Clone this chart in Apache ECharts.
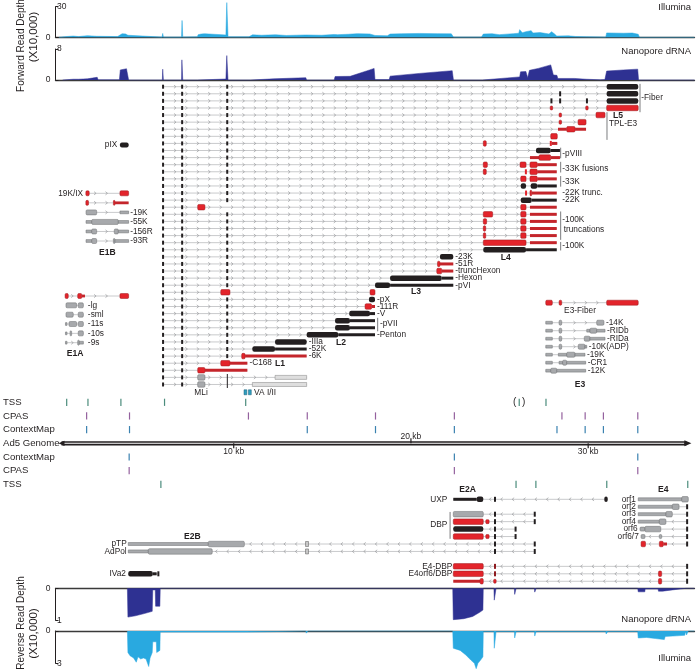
<!DOCTYPE html>
<html><head><meta charset="utf-8">
<script src="https://cdn.jsdelivr.net/npm/echarts@6/dist/echarts.min.js"></script>
<style>html,body{margin:0;padding:0;background:#fff}#c{width:696px;height:670px}</style>
</head><body><div id="c"></div>
<script>
const FONT = '"Liberation Sans", Arial, Helvetica, sans-serif';
const INK = '#231f20';

// ---------- coverage data: [position kb, depth (x10,000)] ----------
const illuminaFwd = [[0.2,0],[0.25,0.5],[0.5,0.6],[0.55,1.3],[1.0,1.2],[1.05,0.6],[1.3,0.7],[1.35,1.5],[1.8,1.6],[1.85,1.1],[2.3,1.0],[2.4,0.6],[3.5,0.7],[3.6,2.5],[3.75,3.5],[3.95,3.3],[4.08,2.0],[4.12,0.2],[6.0,0.2],[6.04,3.8],[6.08,0.3],[7.1,0.3],[7.13,16.5],[7.17,0.4],[8.0,0.5],[8.03,2.5],[8.2,3.2],[8.4,3.5],[8.45,2.2],[9.6,2.3],[9.65,34],[9.72,0.5],[10.9,0.5],[11.1,2.4],[11.6,2.0],[12.4,2.5],[13.0,1.8],[14.1,2.3],[14.2,1.8],[15.0,2.0],[15.7,2.8],[15.8,4.0],[15.9,2.6],[16.5,3.0],[17.0,3.6],[17.7,3.3],[18.0,1.8],[18.7,1.5],[18.85,3.2],[19.5,3.5],[20.5,3.8],[21.5,3.6],[22.3,3.4],[22.42,0.3],[24.0,0.3],[24.1,3.2],[24.6,3.5],[25.0,2.6],[25.8,3.6],[26.1,4.0],[26.15,7.5],[26.3,4.5],[26.5,5.5],[26.55,4.0],[26.8,6.5],[26.9,4.2],[27.3,4.6],[27.4,3.0],[27.8,3.3],[27.95,5.5],[28.1,3.5],[28.24,1.2],[28.9,1.4],[29.3,0.8],[29.9,0.6],[30.0,0.2],[31.0,0.3],[31.05,4.3],[32.0,4.0],[32.5,4.2],[32.83,3.0],[32.9,0],[36,0]];
const nanoporeFwd = [[0.4,0],[0.5,0.2],[1.0,0.2],[1.3,0.2],[1.35,0.3],[1.8,0.3],[1.82,0.7],[2.35,0.7],[2.4,0.05],[3.6,0.05],[3.65,2.6],[3.75,2.9],[4.0,2.9],[4.1,2.5],[4.12,0],[6.02,0],[6.04,2.8],[6.08,0],[7.1,0],[7.12,5.2],[7.17,0],[8.0,0],[8.02,0.25],[9.6,0.25],[9.65,6.3],[9.72,0],[11.0,0],[11.1,0.25],[12.3,0.3],[12.37,0.6],[14.1,0.6],[14.15,0],[15.7,0],[15.75,0.9],[16.6,0.95],[16.65,1.2],[17.7,2.6],[17.8,3.0],[17.95,3.0],[18.0,0.1],[18.8,0.1],[18.85,1.0],[20.5,1.7],[22.35,2.4],[22.42,0],[24.05,0],[24.1,0.5],[26.15,0.8],[26.2,2.1],[26.5,2.2],[26.6,0.6],[26.7,2.5],[27.2,3.0],[27.9,3.9],[28.0,3.8],[28.05,1.3],[28.25,1.2],[28.3,0.4],[29.25,0.4],[29.3,0.25],[29.9,0.2],[30.0,0],[30.7,0.05],[30.95,0.1],[31.05,2.3],[32.0,2.6],[32.8,2.8],[32.85,0],[36,0]];
const nanoporeRev = [[4.05,0],[4.08,0.9],[4.5,0.86],[5.0,0.79],[5.45,0.72],[5.48,0.05],[5.62,0.05],[5.64,0.56],[5.88,0.56],[5.9,0],[22.38,0],[22.41,0.98],[23.0,0.95],[23.5,0.88],[23.9,0.75],[24.08,0.68],[24.1,0],[24.7,0],[24.72,0.37],[24.8,0.37],[24.82,0],[25.85,0],[25.87,0.19],[25.93,0.19],[25.95,0],[26.98,0],[27.0,0.12],[27.06,0.12],[27.08,0],[31.0,0],[31.02,0.06],[31.1,0.06],[31.12,0],[32.8,0],[32.83,0.11],[33.2,0.11],[33.22,0.02],[33.95,0.02],[33.97,0.09],[34.2,0.09],[34.22,0.05],[34.75,0.05],[34.77,0],[35.52,0],[35.55,0.06],[35.63,0.06],[35.65,0],[36,0]];
const illuminaRev = [[4.05,0],[4.08,2.0],[4.2,2.3],[4.4,2.5],[4.55,2.9],[4.65,2.4],[4.8,2.6],[4.95,2.5],[5.1,2.6],[5.25,3.3],[5.33,2.5],[5.45,2.0],[5.48,1.0],[5.68,1.0],[5.7,2.0],[5.88,1.8],[5.9,0.1],[10.7,0.1],[10.75,0],[14.1,0],[14.13,0.2],[14.2,0.2],[14.22,0],[22.38,0],[22.41,1.6],[22.8,1.8],[23.1,2.2],[23.4,2.7],[23.6,3.0],[23.7,3.5],[23.8,3.0],[23.95,2.7],[24.08,2.4],[24.1,0.05],[24.7,0.05],[24.72,1.6],[24.8,1.6],[24.82,0.05],[25.85,0.05],[25.87,0.65],[25.93,0.65],[25.95,0.05],[26.98,0.05],[27.0,0.47],[27.06,0.47],[27.08,0.05],[31.0,0.05],[31.02,0.28],[31.1,0.28],[31.12,0.05],[32.8,0.05],[32.83,0.65],[33.3,0.6],[33.8,0.7],[33.85,0.85],[34.3,0.8],[34.35,0.5],[35.0,0.45],[35.45,0.4],[35.5,0.05],[35.55,0.37],[35.63,0.37],[35.65,0],[36,0]];

// ---------- transcripts: exons [start kb, end kb, kind, colour] ----------
const LEAD = [[6.04,6.08,'l'],[7.10,7.17,'l'],[9.63,9.72,'l']];
const L12 = [[6.04,6.08,'l'],[7.10,7.17,'l']];
const lateTx = [
 {c:'k', ex:[...LEAD,[31.05,32.83,'c']]},
 {c:'k', ex:[...LEAD,[28.38,28.48,'t'],[31.05,32.83,'c']]},
 {c:'k', ex:[...LEAD,[27.90,27.98,'t'],[28.38,28.48,'t'],[29.90,29.98,'t'],[31.05,32.83,'c']]},
 {c:'r', ex:[...LEAD,[27.90,27.98,'s'],[29.90,29.98,'s'],[31.05,32.83,'c']]},
 {c:'r', ex:[...LEAD,[28.38,28.50,'s'],[30.45,30.96,'c']]},
 {c:'r', ex:[...LEAD,[28.38,28.50,'s'],[29.44,29.89,'c']]},
 {c:'r', ex:[...LEAD,[28.31,28.80,'u'],[28.80,29.27,'c'],[29.27,29.89,'u']]},
 {c:'r', ex:[...LEAD,[27.90,28.27,'c']]},
 {c:'r', ex:[...LEAD,[24.10,24.27,'c'],[27.88,27.93,'t'],[27.95,28.27,'u']]},
 {c:'k', ex:[...LEAD,[27.07,27.90,'c'],[27.90,28.42,'u']]},
 {c:'r', ex:[...LEAD,[26.73,27.24,'u'],[27.24,27.90,'c'],[27.90,28.42,'u']]},
 {c:'r', ex:[...LEAD,[24.10,24.33,'c'],[26.17,26.51,'c'],[26.73,27.14,'c'],[27.14,28.24,'u']]},
 {c:'r', ex:[...LEAD,[24.10,24.27,'c'],[26.47,26.53,'t'],[26.73,27.14,'c'],[27.14,28.24,'u']]},
 {c:'r', ex:[...LEAD,[26.21,26.51,'c'],[26.73,27.14,'c'],[27.14,28.24,'u']]},
 {c:'k', ex:[...LEAD,[26.21,26.51,'c'],[26.77,27.14,'c'],[27.14,28.24,'u']]},
 {c:'r', ex:[...LEAD,[26.48,26.54,'t'],[26.73,26.83,'c'],[26.83,28.24,'u']]},
 {c:'k', ex:[...LEAD,[26.21,26.83,'c'],[26.83,28.24,'u']]},
 {c:'r', ex:[...L12,[8.01,8.42,'c'],[26.21,26.51,'c'],[26.73,28.24,'u']]},
 {c:'r', ex:[...LEAD,[24.10,24.63,'c'],[26.21,26.51,'c'],[26.73,28.24,'u']]},
 {c:'r', ex:[...LEAD,[24.10,24.29,'c'],[26.21,26.51,'c'],[26.73,28.24,'u']]},
 {c:'r', ex:[...LEAD,[24.10,24.24,'c'],[26.21,26.51,'c'],[26.73,28.24,'u']]},
 {c:'r', ex:[...LEAD,[24.10,24.24,'c'],[26.21,26.51,'c'],[26.73,28.24,'u']]},
 {c:'r', ex:[...LEAD,[24.10,26.51,'c'],[26.73,28.24,'u']]},
 {c:'k', ex:[...LEAD,[24.10,26.51,'c'],[26.51,28.24,'u']]},
 {c:'k', ex:[...LEAD,[21.66,22.41,'c']], lab:'-23K'},
 {c:'r', ex:[...LEAD,[21.52,21.66,'c'],[21.66,22.41,'u']], lab:'-51R'},
 {c:'r', ex:[...LEAD,[21.48,21.76,'c'],[21.76,22.41,'u']], lab:'-truncHexon'},
 {c:'k', ex:[...LEAD,[18.85,21.76,'c'],[21.76,22.41,'u']], lab:'-Hexon'},
 {c:'k', ex:[...LEAD,[18.0,18.85,'c'],[18.85,22.41,'u']], lab:'-pVI'},
 {c:'r', ex:[...L12,[9.31,9.83,'c'],[17.72,18.0,'c']]},
 {c:'k', ex:[...LEAD,[17.66,18.0,'c']], lab:'-pX'},
 {c:'r', ex:[...LEAD,[17.44,17.81,'c'],[17.81,18.0,'u']], lab:'-111R'},
 {c:'k', ex:[...LEAD,[16.55,17.72,'c'],[17.72,18.0,'u']], lab:'-V'},
 {c:'k', ex:[...LEAD,[15.75,16.59,'c'],[16.59,18.0,'u']]},
 {c:'k', ex:[...LEAD,[15.75,16.59,'c'],[16.59,18.0,'u']]},
 {c:'k', ex:[...LEAD,[14.15,15.93,'c'],[15.93,18.0,'u']], lab:'-Penton'},
 {c:'k', ex:[...LEAD,[12.37,14.15,'c']], lab:'-IIIa'},
 {c:'k', ex:[...LEAD,[11.09,12.37,'c'],[12.37,14.15,'u']], lab:'-52K'},
 {c:'r', ex:[...LEAD,[10.49,10.68,'c'],[10.68,14.15,'u']], lab:'-6K'},
 {c:'r', ex:[...L12,[9.31,9.83,'c'],[9.83,10.81,'u']], lab:'-C168'},
 {c:'r', ex:[...L12,[8.01,8.42,'c'],[8.42,10.81,'u']]},
 {c:'g', ex:[...L12,[8.01,8.42,'c'],[9.66,9.70,'v'],[12.37,14.15,'o']]},
 {c:'g', ex:[...L12,[8.01,8.42,'c'],[9.66,9.70,'v'],[11.09,14.15,'o']]}
];
const lateLabels = [
 [33.0,1.5,'-Fiber','left'],[31.69,4.13,'L5','center',1],[31.18,5.16,'TPL-E3','left'],
 [28.55,9.4,'-pVIII','left'],[28.55,11.5,'-33K fusions','left'],[28.55,13.4,'-33K','left'],
 [28.55,15.0,'-22K trunc.','left'],[28.55,16.0,'-22K','left'],[28.55,18.8,'-100K','left'],
 [28.63,20.2,'truncations','left'],[28.55,22.4,'-100K','left'],[25.36,24.1,'L4','center',1],
 [20.31,28.9,'L3','center',1],[18.28,33.4,'-pVII','left'],[16.08,36.05,'L2','center',1],
 [12.65,39.0,'L1','center',1],[8.20,43.1,'MLi','center'],[11.19,43.1,'VA I/II','left']
];
const lateBrackets = [[32.93,-0.4,3.6],[31.07,3.6,7.5],[28.46,8.6,10.1],[28.46,10.6,12.1],[28.46,12.6,14.1],[28.46,17.6,21.6],[28.46,21.9,23.1],[18.15,32.6,34.5]];
const vaRNA = [[10.62,10.78,43.1],[10.87,11.03,43.1]];

const pixTx = [{c:'k', ex:[[3.63,4.12,'c']], labL:'pIX'}];
const e1bTx = [
 {c:'r', ex:[[1.71,1.90,'c'],[3.63,4.12,'c']], labL:'19K/IX'},
 {c:'r', ex:[[1.71,1.86,'c'],[3.26,3.35,'c'],[3.35,4.12,'u']]},
 {c:'g', ex:[[1.72,2.32,'c'],[3.63,4.12,'u']], lab:'-19K'},
 {c:'g', ex:[[1.72,2.04,'u'],[2.04,3.54,'c'],[3.54,4.12,'u']], lab:'-55K'},
 {c:'g', ex:[[1.72,2.04,'u'],[2.04,2.32,'c'],[3.31,3.54,'c'],[3.54,4.12,'u']], lab:'-156R'},
 {c:'g', ex:[[1.72,2.04,'u'],[2.04,2.32,'c'],[3.26,3.35,'c'],[3.35,4.12,'u']], lab:'-93R'}
];
const e1bLabels = [[2.92,6.23,'E1B','center',1]];
const e1aTx = [
 {c:'r', ex:[[0.54,0.72,'c'],[1.25,1.48,'c'],[1.48,1.66,'u'],[3.63,4.12,'c']]},
 {c:'g', ex:[[0.59,1.19,'c'],[1.28,1.57,'c']], lab:'-lg'},
 {c:'g', ex:[[0.59,1.0,'c'],[1.28,1.57,'c']], lab:'-sml'},
 {c:'g', ex:[[0.56,0.65,'u'],[0.76,1.19,'c'],[1.28,1.57,'c']], lab:'-11s'},
 {c:'g', ex:[[0.56,0.65,'u'],[0.82,0.91,'c'],[1.28,1.57,'c']], lab:'-10s'},
 {c:'g', ex:[[0.56,0.65,'u'],[1.25,1.34,'c'],[1.34,1.57,'u']], lab:'-9s'}
];
const e1aLabels = [[1.10,6.2,'E1A','center',1]];
const e3fTx = [{c:'r', ex:[[27.62,27.99,'c'],[28.37,28.52,'c'],[31.05,32.83,'c']]}];
const e3fLabels = [[29.55,1.0,'E3-Fiber','center']];
const e3Tx = [
 {c:'g', ex:[[27.62,27.99,'u'],[28.37,28.52,'c'],[30.49,30.90,'c']], lab:'-14K'},
 {c:'g', ex:[[27.62,27.99,'u'],[28.37,28.52,'c'],[29.93,30.11,'u'],[30.11,30.49,'c'],[30.49,30.96,'u']], lab:'-RIDb'},
 {c:'g', ex:[[27.62,27.99,'u'],[28.37,28.52,'c'],[29.79,30.11,'c'],[30.11,30.96,'u']], lab:'-RIDa'},
 {c:'g', ex:[[27.62,27.99,'u'],[28.37,28.52,'c'],[29.45,29.83,'c'],[29.83,29.93,'u']], lab:'-10K(ADP)'},
 {c:'g', ex:[[27.62,27.99,'u'],[28.33,28.80,'u'],[28.80,29.27,'c'],[29.27,29.83,'u']], lab:'-19K'},
 {c:'g', ex:[[27.62,27.99,'u'],[28.37,28.57,'u'],[28.57,28.80,'c'],[28.80,29.87,'u']], lab:'-CR1'},
 {c:'g', ex:[[27.62,27.90,'u'],[27.90,28.24,'c'],[28.24,29.87,'u']], lab:'-12K'}
];
const e3Labels = [[29.55,7.7,'E3','center',1]];
const revTx = [
 {row:0, c:'k', ex:[[22.41,23.73,'u'],[23.73,24.10,'c'],[24.72,24.80,'t'],[30.92,31.11,'c']], labL:'UXP', gap:6},
 {row:2, c:'g', ex:[[22.41,24.10,'c'],[24.72,24.80,'t','k'],[26.96,27.04,'t','k']]},
 {row:3, c:'r', ex:[[22.41,24.10,'c'],[24.24,24.43,'s'],[24.72,24.80,'t','k'],[26.96,27.04,'t','k']]},
 {row:4, c:'k', ex:[[22.41,24.10,'c'],[24.72,24.80,'t'],[25.88,25.96,'t']]},
 {row:5, c:'r', ex:[[22.41,24.10,'c'],[24.24,24.43,'s'],[24.72,24.80,'t','k'],[25.88,25.96,'t','k']]},
 {row:6, c:'g', ex:[[4.10,8.61,'u'],[8.61,10.64,'c'],[14.12,14.22,'m'],[24.72,24.80,'t','k'],[26.96,27.04,'t','k']], labL:'pTP', gap:1.6},
 {row:7, c:'g', ex:[[4.10,5.23,'u'],[5.23,8.83,'c'],[14.12,14.22,'m'],[24.72,24.80,'t','k'],[26.96,27.04,'t','k']], labL:'AdPol', gap:1.6},
 {row:10, c:'k', ex:[[4.10,5.48,'c'],[5.48,5.70,'u'],[5.75,5.84,'t']], labL:'IVa2'},
 {row:0, c:'g', ex:[[32.83,35.28,'u'],[35.28,35.65,'c']], labL:'orf1'},
 {row:1, c:'g', ex:[[32.83,34.75,'u'],[34.75,35.13,'c'],[35.55,35.62,'t','k']], labL:'orf2'},
 {row:2, c:'g', ex:[[32.83,34.39,'u'],[34.39,34.75,'c'],[35.55,35.62,'t','k']], labL:'orf3'},
 {row:3, c:'g', ex:[[32.83,34.02,'u'],[34.02,34.39,'c'],[35.55,35.62,'t','k']], labL:'orf4'},
 {row:4, c:'g', ex:[[32.93,33.21,'s'],[33.21,34.10,'c'],[35.55,35.62,'t','k']], labL:'orf6'},
 {row:5, c:'g', ex:[[32.99,33.21,'s'],[34.02,34.15,'s'],[35.55,35.62,'t','k']], labL:'orf6/7'},
 {row:6, c:'r', ex:[[32.99,33.24,'c'],[34.02,34.24,'c'],[34.24,34.45,'u'],[35.55,35.62,'t','k']]},
 {row:9, c:'r', ex:[[22.41,24.10,'c'],[24.72,24.80,'t','dr'],[35.55,35.62,'t','k']], labL:'E4-DBP', gap:1},
 {row:10, c:'r', ex:[[22.41,24.10,'c'],[24.72,24.80,'t','dr'],[33.97,34.15,'c'],[35.55,35.62,'t','k']], labL:'E4orf6/DBP', gap:1},
 {row:11, c:'r', ex:[[22.41,23.92,'u'],[23.92,24.10,'c'],[24.70,24.81,'s'],[33.97,34.15,'c'],[35.55,35.62,'t','k']]}
];
const revLabels = [[23.22,-1.35,'E2A','center',1],[34.24,-1.35,'E4','center',1],[7.71,5.02,'E2B','center',1],[22.07,3.45,'DBP','right']];
const revBrackets = [[22.23,1.7,5.3]];

// ---------- annotation tracks (kb) ----------
const trackNames = ['TSS','CPAS','ContextMap','Ad5 Genome','ContextMap','CPAS','TSS'];
const tssFwd = [0.575,1.775,3.634,6.096,10.676,26.11,27.62];
const cpasFwd = [1.70,4.12,10.83,14.15,18.0,22.45,28.52,29.83,30.86,32.80];
const ctxFwd = [1.70,4.12,14.15,18.0,22.45,28.24,29.83,30.86,32.80];
const ctxRev = [4.10,22.45,32.80];
const cpasRev = [4.10,22.45,32.80];
const tssRev = [5.89,25.93,27.05,31.05,35.62];
const uncertainTss = [26.11];
const genomeLengthKb = 35.938;
const genomeTicks = [10,20,30];
const genomeTickLabels = ['10 kb','20 kb','30 kb'];

// ---------- layout & rendering ----------
const KB_MAX = 36, LEFT = 55.5, WIDTH = 639;
const CHEV_FWD = 6.73, CHEV_REV = 7.136, CHEV_STEP = 0.643;
const COLORS = {
 k:{fill:INK, stroke:null, thin:INK},
 r:{fill:'#e3242b', stroke:'#9a1b1f', thin:'#c4252b'},
 g:{fill:'#a7a9ac', stroke:'#6d6e71', thin:'#a7a9ac'},
 dr:{fill:'#8e1b1f', stroke:null, thin:'#8e1b1f'}
};
const TRACK_COLORS = ['#4b8c7c','#94619e','#3b82b0'];
const grids=[], xAxis=[], yAxis=[], series=[];
function addGrid(top,height){grids.push({left:LEFT,top,width:WIDTH,height});return grids.length-1;}
function addX(gi,extra){xAxis.push(Object.assign({gridIndex:gi,type:'value',min:0,max:KB_MAX,show:false},extra||{}));return xAxis.length-1;}
function addY(o){yAxis.push(o);return yAxis.length-1;}
function text(x,y,str,align,bold,size){
 return {type:'text',x,y,style:{text:str,fill:INK,font:(bold?'bold ':'')+(size||8.3)+'px '+FONT,align,textAlign:align,verticalAlign:'middle',textVerticalAlign:'middle'}};
}
function coverageTrack(data,top,height,max,inverse,color){
 const gi=addGrid(top,height);
 const xi=addX(gi,{show:true,position:inverse?'top':'bottom',axisLine:{show:true,onZero:false,lineStyle:{color:'#3a3a3a',width:1.3}},axisTick:{show:false},axisLabel:{show:false},splitLine:{show:false}});
 const base={gridIndex:gi,type:'value',min:0,max,interval:max,inverse,position:'left',offset:3.5,splitLine:{show:false}};
 const yi=addY(Object.assign({},base,{axisLine:{show:true,lineStyle:{color:INK,width:1}},axisTick:{show:true,inside:true,length:3,lineStyle:{color:INK,width:1}},axisLabel:{inside:true,margin:5,fontSize:8.5,fontFamily:FONT,color:INK,formatter:v=>v===max?String(max):''}}));
 addY(Object.assign({},base,{axisLine:{show:false},axisTick:{show:false},axisLabel:{margin:1.5,fontSize:8.5,fontFamily:FONT,color:INK,formatter:v=>v===0?'0':''}}));
 series.push({type:'line',xAxisIndex:xi,yAxisIndex:yi,data,symbol:'none',showSymbol:false,clip:false,silent:true,lineStyle:{width:0.5,color},areaStyle:{color,opacity:1}});
}
function exonShape(x,c0,X,y,g){
 const a=x[0],b=x[1],type=x[2],ck=x[3]||c0,col=COLORS[ck];
 let xa=X(a),xb=X(b),h,r=0,fill=col.fill,stroke=col.stroke,minW=1;
 if(type==='l'){h=4;fill=INK;stroke=null;minW=2;}
 else if(type==='c'){h=g.hc;r=ck==='k'?2:1.2;}
 else if(type==='u'){h=g.hu;fill=col.thin;stroke=ck==='g'?col.stroke:null;}
 else if(type==='s'){h=4;r=1;minW=2.5;}
 else if(type==='t'){h=5;minW=2;stroke=null;}
 else if(type==='o'){h=4;fill='#dedede';stroke='#808080';}
 else if(type==='m'){h=5;fill='#c8c8c8';stroke='#555';minW=3;}
 else if(type==='v'){h=7;fill=INK;stroke=null;minW=1;}
 let w=xb-xa; if(w<minW){const cx=(xa+xb)/2;xa=cx-minW/2;w=minW;}
 return {type:'rect',shape:{x:xa,y:y-h/2,width:w,height:h,r},style:{fill,stroke,lineWidth:0.5}};
}
function txRenderer(g){
 return function(params,api){
  const t=g.tx[api.value(2)],row=api.value(1);
  const y=api.coord([0,row])[1];
  const X=kb=>api.coord([kb,row])[0];
  const s=Math.min(...t.ex.map(e=>e[0])),e=Math.max(...t.ex.map(e=>e[1]));
  const kids=[{type:'line',shape:{x1:X(s),y1:y,x2:X(e),y2:y},style:{stroke:'#c9cacc',lineWidth:1}}];
  const ph=g.dir>0?CHEV_FWD:CHEV_REV, d=g.dir;
  for(let k=-30;k<=80;k++){
   const p=ph+k*CHEV_STEP; if(p<=s||p>=e) continue;
   const px=X(p);
   if(t.ex.some(q=>px>X(q[0])-2.5&&px<X(q[1])+2.5)) continue;
   kids.push({type:'polyline',shape:{points:[[px-1*d,y-1.6],[px+1*d,y],[px-1*d,y+1.6]]},style:{stroke:'#9a9b9d',fill:'none',lineWidth:0.7}});
  }
  for(const q of t.ex) kids.push(exonShape(q,t.c,X,y,g));
  if(t.lab) kids.push(text(X(e)+(t.gap!=null?t.gap:g.gap),y,t.lab,'left'));
  if(t.labL) kids.push(text(X(s)-(t.gap!=null?t.gap:g.gapL),y,t.labL,'right'));
  return {type:'group',children:kids};
 };
}
function labelRenderer(list){return (p,api)=>{const l=list[api.value(2)];const q=api.coord([l[0],l[1]]);return text(q[0],q[1],l[2],l[3],l[4],l[4]?8.6:8.3);};}
function bracketRenderer(list){return (p,api)=>{const b=list[api.value(2)];const q1=api.coord([b[0],b[1]]),q2=api.coord([b[0],b[2]]);return {type:'line',shape:{x1:q1[0],y1:q1[1],x2:q2[0],y2:q2[1]},style:{stroke:'#6d6e71',lineWidth:0.9}};};}
function boxRenderer(list){return (p,api)=>{const b=list[api.value(2)];const q1=api.coord([b[0],b[2]]),q2=api.coord([b[1],b[2]]);return {type:'rect',shape:{x:q1[0],y:q1[1]-2.5,width:Math.max(2,q2[0]-q1[0]),height:5},style:{fill:'#2f9fbf',stroke:'#1d5f78',lineWidth:0.5}};};}
function txGroup(g){
 const gi=addGrid(g.y0-g.step/2,g.n*g.step);
 const xi=addX(gi);
 const yi=addY({gridIndex:gi,type:'value',min:-0.5,max:g.n-0.5,inverse:true,show:false});
 const common={type:'custom',xAxisIndex:xi,yAxisIndex:yi,silent:true};
 series.push(Object.assign({},common,{renderItem:txRenderer(g),data:g.tx.map((t,i)=>[t.ex[0][0],t.row!=null?t.row:i,i])}));
 if(g.labels) series.push(Object.assign({},common,{renderItem:labelRenderer(g.labels),data:g.labels.map((l,i)=>[l[0],l[1],i])}));
 if(g.brackets) series.push(Object.assign({},common,{renderItem:bracketRenderer(g.brackets),data:g.brackets.map((b,i)=>[b[0],b[1],i])}));
 if(g.boxes) series.push(Object.assign({},common,{renderItem:boxRenderer(g.boxes),data:g.boxes.map((b,i)=>[b[0],b[2],i])}));
}

coverageTrack(illuminaFwd,6.7,30.6,30,false,'#29a9e0');
coverageTrack(nanoporeFwd,49,31,8,false,'#2e3192');
coverageTrack(nanoporeRev,588.3,32,1,true,'#2e3192');
coverageTrack(illuminaRev,631,32.3,3,true,'#29a9e0');

txGroup({y0:86.7,step:7.09,n:43,tx:lateTx,dir:1,hc:5.5,hu:3,gap:2,gapL:2.5,labels:lateLabels,brackets:lateBrackets,boxes:vaRNA});
txGroup({y0:145,step:9,n:1,tx:pixTx,dir:1,hc:5,hu:3,gap:2,gapL:2.7});
txGroup({y0:193.3,step:9.54,n:6,tx:e1bTx,dir:1,hc:5,hu:2.8,gap:1.5,gapL:2.7,labels:e1bLabels});
txGroup({y0:296,step:9.34,n:6,tx:e1aTx,dir:1,hc:5,hu:2.8,gap:4.5,gapL:2.7,labels:e1aLabels});
txGroup({y0:302.7,step:8,n:1,tx:e3fTx,dir:1,hc:5,hu:2.8,gap:2,gapL:2.7,labels:e3fLabels});
txGroup({y0:322.7,step:8,n:7,tx:e3Tx,dir:1,hc:5,hu:2.8,gap:2,gapL:2.7,labels:e3Labels});
txGroup({y0:499.3,step:7.45,n:12,tx:revTx,dir:-1,hc:5.5,hu:3,gap:2,gapL:2.3,labels:revLabels,brackets:revBrackets});

// annotation tracks
(function(){
 const step=13.67, gi=addGrid(402.3-step/2,7*step), xi=addX(gi);
 const yi=addY({gridIndex:gi,type:'category',data:trackNames,inverse:true,axisLine:{show:false},axisTick:{show:false},splitLine:{show:false},axisLabel:{align:'left',margin:LEFT-2,fontSize:9.6,fontFamily:FONT,color:INK}});
 const ticks=[];
 [[tssFwd,0,0],[cpasFwd,1,1],[ctxFwd,2,2],[ctxRev,4,2],[cpasRev,5,1],[tssRev,6,0]].forEach(([arr,row,ty])=>arr.forEach(k=>ticks.push([k,row,ty])));
 const common={type:'custom',xAxisIndex:xi,yAxisIndex:yi,silent:true};
 series.push(Object.assign({},common,{data:ticks,renderItem:(p,api)=>{const q=api.coord([api.value(0),api.value(1)]);return {type:'rect',shape:{x:q[0]-0.6,y:q[1]-3.6,width:1.2,height:7.2},style:{fill:TRACK_COLORS[api.value(2)]}};}}));
 series.push(Object.assign({},common,{data:uncertainTss.map(k=>[k,0]),renderItem:(p,api)=>{const q=api.coord([api.value(0),api.value(1)]);return {type:'group',children:[text(q[0]-4.5,q[1],'(','center',false,10),text(q[0]+4.5,q[1],')','center',false,10)]};}}));
 series.push(Object.assign({},common,{data:[[0,3]],renderItem:(p,api)=>{
  const a=api.coord([0,3]),y=a[1],x0=a[0]+2,x1=api.coord([genomeLengthKb,3])[0]-2;
  const kids=[
   {type:'rect',shape:{x:x0+3,y:y-2.1,width:x1-x0-8,height:4.2},style:{fill:INK}},
   {type:'line',shape:{x1:x0+5,y1:y,x2:x1-7,y2:y},style:{stroke:'#ffffff',lineWidth:1.1}},
   {type:'polygon',shape:{points:[[x0,y],[x0+6,y-2.6],[x0+6,y+2.6]]},style:{fill:INK}},
   {type:'polygon',shape:{points:[[x1,y],[x1-7,y-3],[x1-7,y+3]]},style:{fill:INK}}
  ];
  genomeTicks.forEach((t,i)=>{const x=api.coord([t,3])[0];const up=i===1;
   kids.push({type:'line',shape:{x1:x,y1:y,x2:x,y2:up?y-5:y+5},style:{stroke:INK,lineWidth:1.2}});
   kids.push(text(x,up?y-7:y+8,genomeTickLabels[i],'center',false,8.5));});
  return {type:'group',children:kids};
 }}));
})();

const titleStyle=(t,size)=>({text:t,fill:INK,font:size+'px '+FONT,align:'center',textAlign:'center',verticalAlign:'middle',textVerticalAlign:'middle'});
const rightStyle=(t)=>({text:t,fill:INK,font:'9.5px '+FONT,align:'right',textAlign:'right',verticalAlign:'middle',textVerticalAlign:'middle'});
const option={
 animation:false,
 textStyle:{fontFamily:FONT},
 grid:grids, xAxis, yAxis, series,
 graphic:[
  {type:'text',x:21,y:45.5,rotation:Math.PI/2,style:titleStyle('Forward Read Depth',10)},
  {type:'text',x:33.5,y:37,rotation:Math.PI/2,style:titleStyle('(X10,000)',11.5)},
  {type:'text',x:21,y:623,rotation:Math.PI/2,style:titleStyle('Reverse Read Depth',10)},
  {type:'text',x:33.5,y:633.5,rotation:Math.PI/2,style:titleStyle('(X10,000)',11.5)},
  {type:'text',x:691,y:7,style:rightStyle('Illumina')},
  {type:'text',x:691,y:51,style:rightStyle('Nanopore dRNA')},
  {type:'text',x:691,y:619.5,style:rightStyle('Nanopore dRNA')},
  {type:'text',x:691,y:658,style:rightStyle('Illumina')}
 ]
};
const chart=echarts.init(document.getElementById('c'));
chart.setOption(option);
</script></body></html>
